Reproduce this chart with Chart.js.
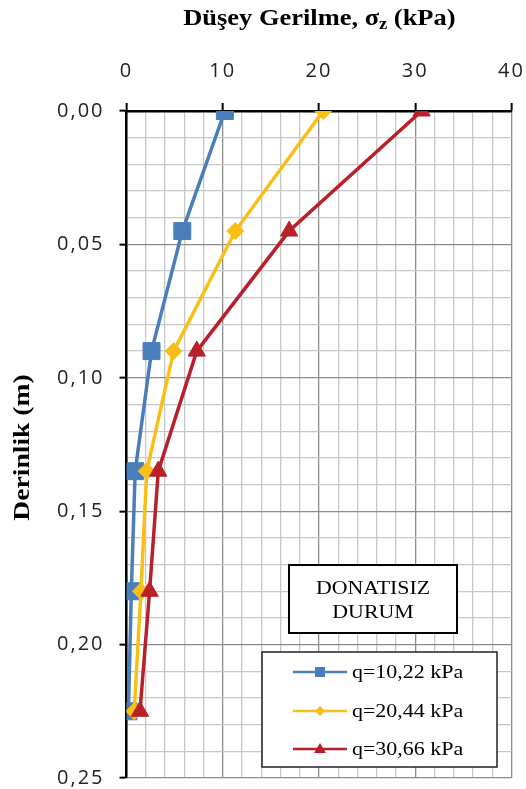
<!DOCTYPE html>
<html>
<head>
<meta charset="utf-8">
<script src="https://cdn.jsdelivr.net/npm/chart.js@4.4.0/dist/chart.umd.min.js"></script>
<style>
  body { margin: 0; background: #fff; }
  #wrap { position: relative; width: 526px; height: 789px; }
  #title {
    position: absolute; left: 0; top: 6px; width: 638px;
    text-align: center; font: bold 23px "Liberation Serif", serif; line-height: 23px;
    color: #000; white-space: nowrap;
  }
  #title span.in { display: inline-block; transform: scaleX(1.15); }
  #title sub { font-size: 16px; vertical-align: -4px; line-height: 0; }
</style>
</head>
<body>
<div id="wrap">
  <canvas id="grafik" width="526" height="789"></canvas>
  <div id="title"><span class="in">Düşey Gerilme, σ<sub>z</sub> (kPa)</span></div>
</div>
<script>
// derinlik (m) ve her yük için düşey gerilme (kPa)
const derinlik = [0, 0.045, 0.09, 0.135, 0.18, 0.225];
const gerilmeQ1 = [10.22, 5.8, 2.6, 0.9, 0.5, 0.2];
const gerilmeQ2 = [20.44, 11.3, 4.9, 2.1, 1.5, 0.8];
const gerilmeQ3 = [30.66, 16.9, 7.3, 3.3, 2.4, 1.4];

const seriAdlari = ["q=10,22 kPa", "q=20,44 kPa", "q=30,66 kPa"];
const kutuYazisi = ["DONATISIZ", "DURUM"];
const yEkseniAdi = "Derinlik (m)";

const xTickValues = [0, 10, 20, 30, 40];
const xTickLabels = ["0", "10", "20", "30", "40"];
const yTickValues = [0, 0.05, 0.10, 0.15, 0.20, 0.25];
const yTickLabels = ["0,00", "0,05", "0,10", "0,15", "0,20", "0,25"];

const renkler = ["#4a7ebb", "#f9bf15", "#b8202a"];
const isaretler = ["rect", "rectRot", "triangle"];
const isaretBoyu = [12, 8.5, 10];

function noktalar(gerilme) {
  return gerilme.map((v, i) => ({ x: v, y: derinlik[i] }));
}

function anaX(v) { return xTickValues.findIndex(t => Math.abs(t - v) < 1e-9); }
function anaY(v) { return yTickValues.findIndex(t => Math.abs(t - v) < 1e-9); }

const seriler = [gerilmeQ1, gerilmeQ2, gerilmeQ3].map((g, i) => ({
  label: seriAdlari[i],
  data: noktalar(g),
  showLine: true,
  borderColor: renkler[i],
  backgroundColor: renkler[i],
  borderWidth: 3.5,
  pointStyle: isaretler[i],
  pointRadius: isaretBoyu[i],
  pointHoverRadius: isaretBoyu[i],
  pointBorderWidth: 1,
  order: 3 - i,
}));

// eksen yazılarını biraz geniş çiz
const harfAraligi = {
  id: "harfAraligi",
  beforeDraw(chart) { chart.ctx.letterSpacing = "2px"; },
  afterDatasetsDraw(chart) { chart.ctx.letterSpacing = "0px"; },
};

// y ekseni başlığı, yazı kutusu ve açıklama kutusu
const kutular = {
  id: "kutular",
  afterDraw(chart) {
    const ctx = chart.ctx;
    const area = chart.chartArea;
    ctx.save();
    ctx.letterSpacing = "0px";

    // y ekseni başlığı
    ctx.save();
    ctx.translate(23, (area.top + area.bottom) / 2 + 3);
    ctx.rotate(-Math.PI / 2);
    ctx.scale(1.2, 1);
    ctx.fillStyle = "#000";
    ctx.font = 'bold 23px "Liberation Serif", serif';
    ctx.textAlign = "center";
    ctx.textBaseline = "middle";
    ctx.fillText(yEkseniAdi, 0, 0);
    ctx.restore();

    // DONATISIZ DURUM kutusu
    ctx.fillStyle = "#fff";
    ctx.fillRect(289, 565, 168, 68);
    ctx.strokeStyle = "#000";
    ctx.lineWidth = 2;
    ctx.strokeRect(289, 565, 168, 68);
    ctx.fillStyle = "#000";
    ctx.font = '19px "Liberation Serif", serif';
    ctx.textAlign = "center";
    ctx.textBaseline = "middle";
    kutuYazisi.forEach((t, i) => {
      ctx.save();
      ctx.translate(373, 589 + i * 24);
      ctx.scale(1.15, 1);
      ctx.fillText(t, 0, 0);
      ctx.restore();
    });

    // açıklama kutusu
    ctx.fillStyle = "#fff";
    ctx.fillRect(262, 652, 235, 115);
    ctx.strokeStyle = "#222";
    ctx.lineWidth = 1.5;
    ctx.strokeRect(262, 652, 235, 115);
    const satirY = [672, 711, 749];
    chart.data.datasets.forEach((ds, i) => {
      const y = satirY[i];
      ctx.strokeStyle = ds.borderColor;
      ctx.lineWidth = 2.5;
      ctx.beginPath();
      ctx.moveTo(293, y);
      ctx.lineTo(347, y);
      ctx.stroke();
      ctx.fillStyle = ds.backgroundColor;
      ctx.beginPath();
      if (i === 0) {
        ctx.rect(315, y - 5, 10, 10);
      } else if (i === 1) {
        ctx.moveTo(320, y - 5); ctx.lineTo(325, y); ctx.lineTo(320, y + 5); ctx.lineTo(315, y);
        ctx.closePath();
      } else {
        ctx.moveTo(320, y - 6); ctx.lineTo(326, y + 4); ctx.lineTo(314, y + 4);
        ctx.closePath();
      }
      ctx.fill();
      ctx.save();
      ctx.translate(352, y + 1);
      ctx.scale(1.22, 1);
      ctx.fillStyle = "#000";
      ctx.font = '18px "Liberation Serif", serif';
      ctx.textAlign = "left";
      ctx.fillText(ds.label, 0, 0);
      ctx.restore();
    });
    ctx.restore();
  }
};

new Chart(document.getElementById("grafik"), {
  type: "scatter",
  data: { datasets: seriler },
  options: {
    responsive: false,
    animation: false,
    layout: { autoPadding: false, padding: { top: 0, left: 0, right: 14.5, bottom: 11 } },
    plugins: { legend: { display: false }, tooltip: { enabled: false } },
    scales: {
      x: {
        type: "linear",
        position: "top",
        min: 0,
        max: 40,
        afterFit(s) { s.height = 111; s.paddingLeft = 0; s.paddingRight = 0; },
        ticks: {
          stepSize: 2,
          maxTicksLimit: 100,
          autoSkip: false,
          maxRotation: 0,
          padding: 20,
          color: "#222",
          font: { family: "'Open Sans'", size: 20 },
          callback: v => { const i = anaX(v); return i >= 0 ? xTickLabels[i] : ""; },
        },
        grid: {
          color: c => anaX(c.tick.value) >= 0 ? "#8c8c8c" : "#c8c8c8",
          lineWidth: 1.3,
          tickLength: 8,
          tickWidth: 2,
          tickColor: c => anaX(c.tick.value) >= 0 ? "#000" : "rgba(0,0,0,0)",
        },
        border: { color: "#000", width: 2.5 },
      },
      y: {
        type: "linear",
        reverse: true,
        min: 0,
        max: 0.25,
        afterFit(s) { s.width = 126.5; s.paddingTop = 0; s.paddingBottom = 0; },
        ticks: {
          stepSize: 0.01,
          maxTicksLimit: 100,
          autoSkip: false,
          padding: 15,
          color: "#222",
          font: { family: "'Open Sans'", size: 20 },
          callback: v => { const i = anaY(v); return i >= 0 ? yTickLabels[i] : ""; },
        },
        grid: {
          color: c => anaY(c.tick.value) >= 0 ? "#8c8c8c" : "#c8c8c8",
          lineWidth: 1.3,
          tickLength: 7,
          tickWidth: 2,
          tickColor: c => anaY(c.tick.value) >= 0 ? "#000" : "rgba(0,0,0,0)",
        },
        border: { color: "#000", width: 2.5 },
      },
    },
  },
  plugins: [harfAraligi, kutular],
});
</script>
</body>
</html>
